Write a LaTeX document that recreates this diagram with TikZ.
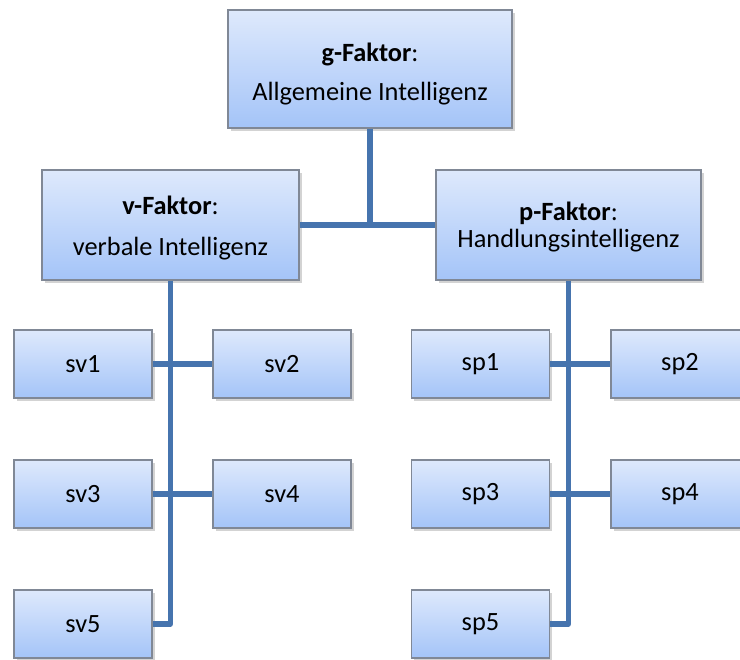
\documentclass[tikz,border=0pt]{standalone}
\usepackage{fontspec}
\setmainfont{Carlito}
\usetikzlibrary{positioning,shadows}

\definecolor{boxtop}{RGB}{222,233,252}
\definecolor{boxbottom}{RGB}{164,196,248}
\definecolor{boxline}{RGB}{128,136,150}
\definecolor{linkblue}{RGB}{70,116,174}

\begin{document}
\begin{tikzpicture}[
    factor/.style={rectangle, draw=boxline, line width=0.6pt, top color=boxtop, bottom color=boxbottom,
                   align=center, minimum height=2.2cm, inner sep=2pt,
                   drop shadow={opacity=0.35, shadow xshift=1.5pt, shadow yshift=-1.5pt}},
    sub/.style={factor, minimum width=2.76cm, minimum height=1.36cm},
    link/.style={draw=linkblue, line width=3pt, line join=round},
    font=\fontsize{15}{18}\selectfont
]
\useasboundingbox (0,0) rectangle (14.8,13.18);

% General factor
\node[factor, minimum width=5.68cm, minimum height=2.36cm] (g) at (7.4,11.8)
  {\rule{0pt}{16pt}\textbf{g-Faktor}:\\[4pt] Allgemeine Intelligenz};

% Group factors
\node[factor, minimum width=5.14cm] (v) at (3.41,8.68)
  {\rule{0pt}{14pt}\textbf{v-Faktor}:\\[5pt] verbale Intelligenz};
\node[factor, minimum width=5.3cm] (p) at (11.37,8.68)
  {\rule{0pt}{13pt}\textbf{p-Faktor}:\\[-3pt] Handlungsintelligenz};

% Specific factors (verbal)
\node[sub] (sv1) at (1.66,5.9) {sv1};
\node[sub] (sv2) at (5.64,5.9) {sv2};
\node[sub] (sv3) at (1.66,3.3) {sv3};
\node[sub] (sv4) at (5.64,3.3) {sv4};
\node[sub] (sv5) at (1.66,0.7) {sv5};

% Specific factors (performance)
\node[sub] (sp1) at (9.61,5.9) {sp1};
\node[sub] (sp2) at (13.6,5.9) {sp2};
\node[sub] (sp3) at (9.61,3.3) {sp3};
\node[sub] (sp4) at (13.6,3.3) {sp4};
\node[sub] (sp5) at (9.61,0.7) {sp5};

% Connections: g to group factors
\draw[link] (g.south) -- (g.south |- v.east);
\draw[link] (v.east) -- (p.west);

% Connections: group factors to specific factors
\draw[link] (v.south) -- (v.south |- sv5.east) -- (sv5.east);
\draw[link] (p.south) -- (p.south |- sp5.east) -- (sp5.east);
\foreach \a/\b in {sv1/sv2, sv3/sv4, sp1/sp2, sp3/sp4}
  \draw[link] (\a.east) -- (\b.west);

\end{tikzpicture}
\end{document}
